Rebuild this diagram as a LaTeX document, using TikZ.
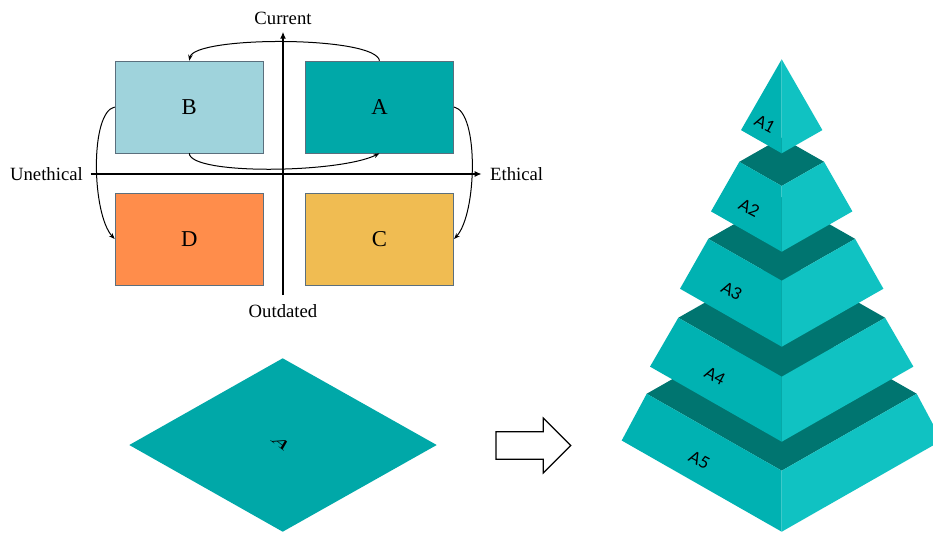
\documentclass[tikz,border=0pt]{standalone}
\usepackage{fontspec}
\setmainfont{Liberation Serif}
\newfontfamily\pyrfont{Lato}
\usetikzlibrary{arrows.meta}
\definecolor{boxA}{HTML}{00A8A8}
\definecolor{boxB}{HTML}{9FD3DC}
\definecolor{boxC}{HTML}{F0BC52}
\definecolor{boxD}{HTML}{FF8D4B}
\definecolor{boxedge}{HTML}{5B6F7D}
\definecolor{dia}{HTML}{00A8A8}
\definecolor{pyrtop}{HTML}{007570}
\definecolor{pyrleft}{HTML}{00B2B2}
\definecolor{pyrright}{HTML}{10C2C2}
\newcommand{\pyrFrust}[4]{%
  \pgfmathsetmacro\pyrTL{#2-0.57*#1}%
  \pgfmathsetmacro\pyrBL{#4-0.57*#3}%
  \pgfmathsetmacro\pyrTB{#2-1.14*#1}%
  \fill[pyrtop] ({781.7-#1},\pyrTL) -- (781.7,#2) -- ({781.7+#1},\pyrTL) -- (781.7,\pyrTB) -- cycle;
  \fill[pyrleft] ({781.7-#1},\pyrTL) -- (781.7,#2) -- (781.7,#4) -- ({781.7-#3},\pyrBL) -- cycle;
  \fill[pyrright] ({781.7+#1},\pyrTL) -- (781.7,#2) -- (781.7,#4) -- ({781.7+#3},\pyrBL) -- cycle;
}
\begin{document}
\begin{tikzpicture}[x=1pt,y=-1pt,
  qbox/.style={draw=boxedge, line width=0.6pt, minimum width=148.5pt, minimum height=92pt,
    inner sep=0pt, font=\fontsize{22.7}{24}\selectfont},
  lbl/.style={font=\fontsize{18.7}{20}\selectfont, inner sep=1pt},
  axisline/.style={line width=1.5pt, -{Latex[length=7pt,width=6pt]}},
  curv/.style={line width=1pt, -{Stealth[length=6pt,width=4.5pt]}},
  plbl/.style={font=\pyrfont\fontsize{16.5}{18}\selectfont, rotate=-28, inner sep=0pt}]
\clip (0,0) rectangle (933,533);
\useasboundingbox (0,0) rectangle (933,533);
% quadrant boxes
\node[qbox, fill=boxB] (B) at (189.25,107) {B};
\node[qbox, fill=boxA] (A) at (379.5,107) {A};
\node[qbox, fill=boxD] (D) at (189.25,239) {D};
\node[qbox, fill=boxC] (C) at (379.5,239) {C};
% axes
\coordinate (hl) at (90.7,174);
\coordinate (hr) at (481.7,174);
\coordinate (vb) at (283,295);
\coordinate (vt) at (283,31.7);
\draw[axisline] (hl) -- (hr);
\draw[axisline] (vb) -- (vt);
\node[lbl, anchor=east] (uneth) at (84,174) {Unethical};
\node[lbl, anchor=west] (eth) at (489,174) {Ethical};
\node[lbl] (cur) at (283,18) {Current};
\node[lbl] (outd) at (283,311) {Outdated};
% curved arrows
\draw[curv] (A.north) .. controls +(-4,-25) and +(5,-25) .. (B.north);
\draw[curv] (B.south) .. controls +(1,22) and +(-40,20) .. (A.south);
\draw[curv] (A.east) .. controls +(25,5) and +(23,-25) .. (C.east);
\draw[curv] (B.west) .. controls +(-25,5) and +(-23,-25) .. (D.west);
% diamond
\fill[dia] (282.7,358.3) -- (436.7,445) -- (282.7,531.7) -- (129.3,445) -- cycle;
\node[font=\fontsize{19}{19}\selectfont, inner sep=0pt, rotate=-37.5, xslant=0.508, xscale=1.3, yscale=0.75] (dA) at (281.7,444) {A};
% block arrow
\draw[line width=1.2pt, fill=white] (496,431.7) -- (543.3,431.7) -- (543.3,418) -- (570.7,445.5) -- (543.3,473) -- (543.3,459.3) -- (496,459.3) -- cycle;
% pyramid
\pyrFrust{135}{470.7}{160}{531.7}
\pyrFrust{103.4}{376.7}{131.7}{441.7}
\pyrFrust{73.4}{280.7}{101.7}{346.7}
\pyrFrust{42.4}{186}{70.7}{251.7}
\fill[pyrleft] (781.7,59.3) -- (741,130.1) -- (781.7,153.3) -- cycle;
\fill[pyrright] (781.7,59.3) -- (822.4,130.1) -- (781.7,153.3) -- cycle;
\node[plbl] (a1) at (765,124) {A1};
\node[plbl] (a2) at (749.3,208.3) {A2};
\node[plbl] (a3) at (731.7,291) {A3};
\node[plbl] (a4) at (715,376) {A4};
\node[plbl] (a5) at (699.3,460) {A5};
\end{tikzpicture}
\end{document}
